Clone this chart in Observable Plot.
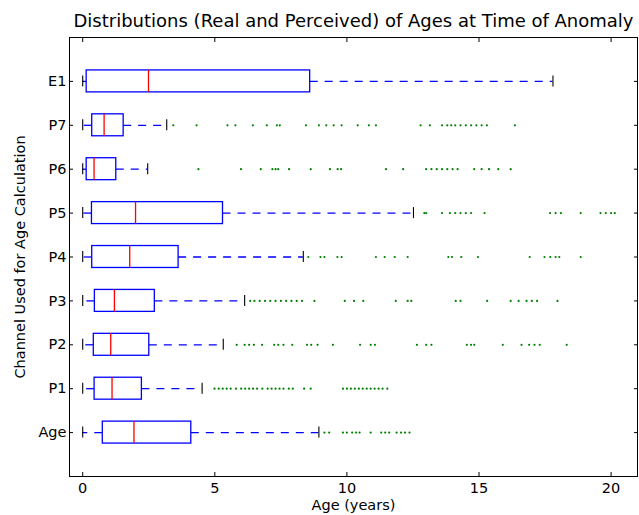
<!DOCTYPE html>
<html><head><meta charset="utf-8">
<script src="https://cdn.jsdelivr.net/npm/d3@7"></script>
<script src="https://cdn.jsdelivr.net/npm/@observablehq/plot@0.6"></script>
<style>body{margin:0;background:#fff} svg{font-family:"DejaVu Sans"}</style>
</head><body><div id="chart"></div><script>
const title = "Distributions (Real and Perceived) of Ages at Time of Anomaly";
const xLabel = "Age (years)";
const yLabel = "Channel Used for Age Calculation";
const categories = ["Age","P1","P2","P3","P4","P5","P6","P7","E1"];
const xTicks = [0,5,10,15,20];
const lows    = [0, 0, 0, 0, 0, 0, 0, 0, 0];
const q1s     = [0.76, 0.45, 0.42, 0.46, 0.36, 0.35, 0.15, 0.36, 0.15];
const medians = [1.94, 1.11, 1.06, 1.2, 1.78, 2.0, 0.43, 0.81, 2.49];
const q3s     = [4.11, 2.24, 2.52, 2.73, 3.63, 5.31, 1.27, 1.55, 8.61];
const highs   = [8.94, 4.52, 5.32, 6.13, 8.35, 12.52, 2.46, 3.18, 17.8];
const fliersAge = [9.15,9.33,9.85,10.0,10.2,10.35,10.48,10.9,11.3,11.45,11.6,11.88,12.05,12.2,12.37];
const fliersP1 = [4.99,5.15,5.3,5.45,5.6,5.8,6.0,6.15,6.3,6.45,6.6,6.8,7.0,7.15,7.3,7.45,7.6,7.8,7.95,8.38,8.63,9.85,10.0,10.15,10.3,10.45,10.6,10.75,10.9,11.05,11.2,11.35,11.53];
const fliersP2 = [5.83,6.13,6.3,6.48,6.79,7.25,7.4,7.6,7.93,8.49,8.65,8.89,9.47,10.5,10.9,11.06,12.65,13.0,13.2,14.54,14.7,14.82,15.9,16.61,16.9,17.1,17.3,18.32];
const fliersP3 = [6.34,6.5,6.7,6.9,7.1,7.3,7.5,7.7,7.9,8.1,8.3,8.77,9.92,10.27,10.62,11.85,12.3,12.44,14.12,14.3,15.31,16.2,16.5,16.8,17.0,17.2,17.97];
const fliersP4 = [8.54,9.0,9.15,9.64,9.8,11.1,11.43,11.81,12.3,13.84,13.98,14.33,14.96,16.92,17.48,17.7,17.9,18.04,18.85];
const fliersP5 = [12.93,13.0,13.6,13.9,14.1,14.3,14.5,14.7,15.21,17.69,17.9,18.1,18.85,19.6,19.8,20.0,20.14];
const fliersP6 = [4.38,5.99,6.74,7.18,7.3,7.4,7.81,8.63,9.36,9.65,9.78,11.48,12.13,13.0,13.2,13.4,13.6,13.8,14.0,14.19,14.82,15.1,15.38,15.73,16.2];
const fliersP7 = [3.43,4.31,5.48,5.78,6.44,6.97,7.35,7.46,8.45,8.94,9.22,9.5,9.8,10.41,10.83,11.1,12.79,13.14,13.6,13.8,13.95,14.1,14.3,14.5,14.7,14.9,15.1,15.3,16.36];
const fliersE1 = [];
const fliers = [fliersAge,fliersP1,fliersP2,fliersP3,fliersP4,fliersP5,fliersP6,fliersP7,fliersE1];

const rows = categories.map((c,i)=>({cat:c, pos:i+1, lo:lows[i], q1:q1s[i], med:medians[i], q3:q3s[i], hi:highs[i]}));
const fl = categories.flatMap((c,i)=> fliers[i].map(v=>({pos:i+1, v})));
const blue = "#0000ff", red = "#ff0000", green = "#008000";
const dash = "8,7";

const chart = Plot.plot({
  width: 639, height: 515,
  marginLeft: 69, marginRight: 2, marginTop: 37, marginBottom: 39,
  style: {fontFamily: "DejaVu Sans", fontSize: "14.5px", background: "white", color: "black", overflow: "visible"},
  x: {domain: [-0.5, 21], ticks: xTicks},
  y: {domain: [0, 10], ticks: d3.range(1, 10)},
  marks: [
    Plot.ruleY(rows, {y: "pos", x1: "q1", x2: "lo", stroke: blue, strokeWidth: 1.3, strokeDasharray: dash}),
    Plot.ruleY(rows, {y: "pos", x1: "q3", x2: "hi", stroke: blue, strokeWidth: 1.3, strokeDasharray: dash}),
    Plot.ruleX(rows, {x: "lo", y1: d => d.pos - 0.125, y2: d => d.pos + 0.125, stroke: "black", strokeWidth: 1.1}),
    Plot.ruleX(rows, {x: "hi", y1: d => d.pos - 0.125, y2: d => d.pos + 0.125, stroke: "black", strokeWidth: 1.1}),
    Plot.rect(rows, {x1: "q1", x2: "q3", y1: d => d.pos - 0.25, y2: d => d.pos + 0.25, fill: "white", stroke: blue, strokeWidth: 1.3}),
    Plot.ruleX(rows, {x: "med", y1: d => d.pos - 0.25, y2: d => d.pos + 0.25, stroke: red, strokeWidth: 1.3}),
    Plot.dot(fl, {x: "v", y: "pos", r: 1.1, fill: green, stroke: "none"}),
    Plot.frame({stroke: "black", strokeWidth: 1}),
    // inward ticks on all sides
    Plot.axisX({anchor: "bottom", ticks: xTicks, tickSize: 4, dy: -4, tickFormat: () => "", label: null}),
    Plot.axisX({anchor: "top", ticks: xTicks, tickSize: 4, dy: 4, tickFormat: () => "", label: null}),
    Plot.axisY({anchor: "left", ticks: d3.range(1,10), tickSize: 4, dx: 4, tickFormat: () => "", label: null}),
    Plot.axisY({anchor: "right", ticks: d3.range(1,10), tickSize: 4, dx: -4, tickFormat: () => "", label: null}),
    // labels
    Plot.axisX({anchor: "bottom", ticks: xTicks, tickSize: 0, tickPadding: 6, fontSize: 14.5,
      label: xLabel, labelAnchor: "center", labelOffset: 33, labelArrow: "none"}),
    Plot.axisY({anchor: "left", ticks: d3.range(1,10), tickSize: 0, tickPadding: 3, fontSize: 14.5,
      tickFormat: i => categories[i - 1], label: yLabel, labelAnchor: "center", labelOffset: 55, labelArrow: "none"}),
    Plot.text([title], {text: d => d, frameAnchor: "top", dy: -11, lineAnchor: "bottom", fontSize: 18})
  ]
});
document.getElementById("chart").append(chart);
</script></body></html>
